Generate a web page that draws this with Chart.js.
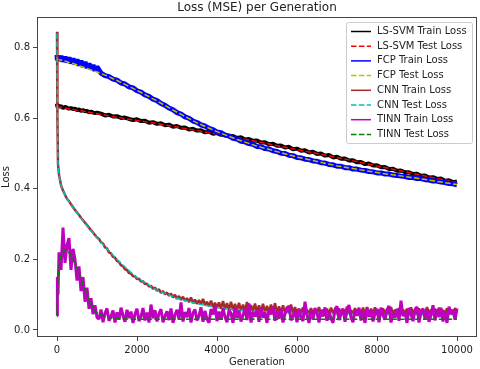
<html lang="en">
<head>
    <meta charset="UTF-8">
    <title>Loss (MSE) per Generation</title>
    <style>
        body { margin: 0; background: #fff; }
    </style>
</head>
<body>
    <canvas id="loss-chart" width="480" height="369"></canvas>
    <script src="https://cdn.jsdelivr.net/npm/chart.js"></script>
    <script>
        // x grids: every 50 generations for the very noisy curves, every 100 for the banded ones
        const generationsFine = [0, 10, 25];
        for (let g = 50; g <= 10000; g += 50) generationsFine.push(g);

        const generationsMedium = [0, 10, 25, 50, 100, 150, 200, 250, 300, 350, 400, 450, 500,
            550, 600, 650, 700, 750, 800, 850, 900, 950, 1000];
        for (let g = 1100; g <= 10000; g += 100) generationsMedium.push(g);

        const generationsCoarse = [0, 10, 25, 50, 100, 150, 200, 250, 300, 400, 500, 600, 700, 800,
            900, 1000, 1250, 1500, 1750, 2000, 2500, 3000, 3500, 4000, 4500, 5000, 6000, 7000, 8000, 9000, 10000];

        // LS-SVM (medium grid / coarse grid)
        const lsSvmTrain = [0.641, 0.631, 0.636, 0.633, 0.634, 0.629, 0.632, 0.63, 0.627, 0.629, 0.626, 0.627, 0.623,
            0.625, 0.621, 0.623, 0.62, 0.621, 0.617, 0.619, 0.616, 0.615, 0.616,
            0.613, 0.608, 0.61, 0.605, 0.606, 0.601, 0.602, 0.598, 0.595, 0.597,
            0.592, 0.593, 0.587, 0.589, 0.584, 0.586, 0.58, 0.582, 0.576, 0.578,
            0.573, 0.574, 0.568, 0.57, 0.565, 0.566, 0.56, 0.562, 0.556, 0.558,
            0.553, 0.554, 0.548, 0.55, 0.544, 0.546, 0.54, 0.541, 0.536, 0.537,
            0.531, 0.532, 0.526, 0.528, 0.522, 0.523, 0.517, 0.519, 0.512, 0.514,
            0.508, 0.509, 0.503, 0.505, 0.499, 0.5, 0.494, 0.496, 0.489, 0.491,
            0.485, 0.486, 0.48, 0.481, 0.475, 0.476, 0.47, 0.472, 0.466, 0.467,
            0.461, 0.462, 0.456, 0.457, 0.451, 0.452, 0.447, 0.447, 0.442, 0.443,
            0.437, 0.438, 0.432, 0.433, 0.428, 0.429, 0.423, 0.424, 0.419, 0.42];

        const lsSvmTest = [0.633, 0.633, 0.632, 0.632, 0.631, 0.63, 0.629, 0.628, 0.627, 0.625, 0.623, 0.621, 0.619,
            0.617, 0.615, 0.613, 0.608, 0.603, 0.598, 0.594, 0.585, 0.575, 0.565, 0.555, 0.545, 0.534,
            0.511, 0.489, 0.465, 0.441, 0.418];

        // FCP (medium grid / coarse grid)
        const fcpTrain = [0.779, 0.764, 0.778, 0.763, 0.776, 0.761, 0.774, 0.759, 0.772, 0.756, 0.769, 0.753, 0.766,
            0.75, 0.763, 0.746, 0.759, 0.743, 0.755, 0.739, 0.751, 0.735, 0.746,
            0.728, 0.721, 0.718, 0.711, 0.708, 0.7, 0.697, 0.689, 0.686, 0.678,
            0.674, 0.666, 0.662, 0.654, 0.65, 0.642, 0.637, 0.629, 0.624, 0.616,
            0.612, 0.604, 0.6, 0.592, 0.588, 0.581, 0.578, 0.571, 0.568, 0.561,
            0.559, 0.552, 0.55, 0.543, 0.541, 0.535, 0.533, 0.528, 0.526, 0.52,
            0.519, 0.514, 0.513, 0.508, 0.506, 0.501, 0.5, 0.495, 0.494, 0.489,
            0.488, 0.484, 0.483, 0.479, 0.478, 0.474, 0.473, 0.469, 0.468, 0.464,
            0.464, 0.46, 0.46, 0.456, 0.456, 0.453, 0.452, 0.449, 0.448, 0.445,
            0.445, 0.442, 0.442, 0.439, 0.438, 0.436, 0.435, 0.432, 0.432, 0.429,
            0.429, 0.426, 0.425, 0.422, 0.422, 0.419, 0.418, 0.415, 0.414, 0.411];

        const fcpTest = [0.768, 0.767, 0.767, 0.766, 0.765, 0.763, 0.762, 0.76, 0.758, 0.755, 0.751, 0.747, 0.743,
            0.739, 0.735, 0.731, 0.72, 0.707, 0.693, 0.679, 0.649, 0.617, 0.587, 0.562, 0.54, 0.521,
            0.49, 0.465, 0.446, 0.43, 0.412];

        // CNN (fine grid / coarse grid)
        const cnnTrain = [0.845, 0.6, 0.47, 0.44, 0.41, 0.395, 0.383, 0.372, 0.365, 0.356, 0.348, 0.34, 0.333,
            0.326, 0.318, 0.311, 0.304, 0.297, 0.29, 0.283, 0.276, 0.269, 0.262,
            0.258, 0.248, 0.245, 0.234, 0.231, 0.22, 0.217, 0.207, 0.205, 0.195,
            0.193, 0.183, 0.181, 0.172, 0.17, 0.161, 0.16, 0.152, 0.152, 0.144,
            0.145, 0.137, 0.138, 0.13, 0.131, 0.123, 0.125, 0.117, 0.12, 0.111,
            0.115, 0.105, 0.11, 0.101, 0.106, 0.097, 0.103, 0.092, 0.1, 0.088,
            0.096, 0.085, 0.094, 0.082, 0.09, 0.079, 0.092, 0.076, 0.086, 0.074,
            0.085, 0.072, 0.088, 0.07, 0.08, 0.067, 0.083, 0.065, 0.077, 0.063,
            0.078, 0.06, 0.082, 0.058, 0.076, 0.057, 0.08, 0.056, 0.074, 0.055,
            0.077, 0.054, 0.072, 0.053, 0.079, 0.052, 0.07, 0.052, 0.075, 0.051,
            0.07, 0.05, 0.074, 0.05, 0.068, 0.049, 0.072, 0.049, 0.076, 0.048,
            0.067, 0.048, 0.07, 0.048, 0.066, 0.047, 0.072, 0.047, 0.065, 0.047,
            0.06, 0.046, 0.064, 0.045, 0.057, 0.046, 0.062, 0.045, 0.058, 0.046,
            0.065, 0.045, 0.057, 0.046, 0.06, 0.045, 0.063, 0.046, 0.056, 0.045,
            0.061, 0.046, 0.058, 0.045, 0.066, 0.046, 0.056, 0.045, 0.062, 0.046,
            0.058, 0.045, 0.063, 0.046, 0.057, 0.045, 0.06, 0.046, 0.064, 0.045,
            0.056, 0.046, 0.061, 0.045, 0.058, 0.046, 0.065, 0.045, 0.057, 0.046,
            0.062, 0.045, 0.058, 0.046, 0.06, 0.045, 0.064, 0.046, 0.056, 0.045,
            0.061, 0.046, 0.056, 0.045, 0.065, 0.046, 0.058, 0.045, 0.06, 0.046,
            0.063, 0.045, 0.056, 0.046, 0.061, 0.045, 0.058, 0.046, 0.062, 0.05];

        const cnnTest = [0.84, 0.6, 0.47, 0.44, 0.41, 0.395, 0.383, 0.372, 0.364, 0.347, 0.332, 0.317, 0.303,
            0.289, 0.275, 0.261, 0.23, 0.2, 0.173, 0.148, 0.113, 0.09, 0.074, 0.063, 0.056, 0.052,
            0.048, 0.046, 0.045, 0.044, 0.044];

        // TINN (fine grid / coarse grid)
        const tinnTrain = [0.04, 0.15, 0.1, 0.22, 0.17, 0.29, 0.19, 0.24, 0.26, 0.17, 0.23, 0.2, 0.14,
            0.18, 0.11, 0.15, 0.08, 0.12, 0.06, 0.09, 0.045, 0.07, 0.035,
            0.031, 0.058, 0.022, 0.047, 0.061, 0.026, 0.038, 0.055, 0.021, 0.05,
            0.029, 0.063, 0.041, 0.023, 0.057, 0.034, 0.052, 0.02, 0.045, 0.06,
            0.025, 0.037, 0.062, 0.027, 0.049, 0.021, 0.072, 0.033, 0.056, 0.024,
            0.046, 0.059, 0.022, 0.039, 0.053, 0.028, 0.061, 0.02, 0.043, 0.057,
            0.03, 0.078, 0.024, 0.051, 0.036, 0.062, 0.021, 0.048, 0.058, 0.027,
            0.04, 0.064, 0.023, 0.054, 0.031, 0.02, 0.059, 0.044, 0.07, 0.025,
            0.052, 0.029, 0.061, 0.037, 0.022, 0.056, 0.047, 0.02, 0.063, 0.034,
            0.055, 0.024, 0.042, 0.06, 0.028, 0.075, 0.021, 0.05, 0.038, 0.058,
            0.023, 0.063, 0.035, 0.049, 0.02, 0.057, 0.044, 0.066, 0.026, 0.053,
            0.032, 0.061, 0.021, 0.046, 0.058, 0.069, 0.027, 0.039, 0.054, 0.022,
            0.06, 0.036, 0.025, 0.08, 0.043, 0.02, 0.055, 0.03, 0.062, 0.048,
            0.021, 0.057, 0.038, 0.064, 0.026, 0.051, 0.033, 0.02, 0.059, 0.067,
            0.028, 0.045, 0.061, 0.023, 0.054, 0.071, 0.035, 0.022, 0.058, 0.04,
            0.063, 0.027, 0.05, 0.02, 0.065, 0.037, 0.056, 0.024, 0.046, 0.06,
            0.022, 0.063, 0.041, 0.029, 0.057, 0.068, 0.021, 0.048, 0.035, 0.06,
            0.026, 0.083, 0.039, 0.053, 0.02, 0.062, 0.044, 0.025, 0.058, 0.065,
            0.021, 0.049, 0.061, 0.032, 0.055, 0.023, 0.042, 0.07, 0.027, 0.058,
            0.036, 0.063, 0.024, 0.051, 0.02, 0.066, 0.045, 0.057, 0.029, 0.061];

        const tinnTest = [0.04, 0.09, 0.14, 0.18, 0.21, 0.222, 0.226, 0.225, 0.22, 0.2, 0.175, 0.145, 0.115,
            0.085, 0.062, 0.048, 0.036, 0.032, 0.031, 0.03, 0.03, 0.03, 0.03, 0.03, 0.03, 0.03,
            0.03, 0.03, 0.03, 0.03, 0.03];

        const xTickValues = [0, 2000, 4000, 6000, 8000, 10000];
        const yTickValues = [0.0, 0.2, 0.4, 0.6, 0.8];

        const seriesList = [
            { label: 'LS-SVM Train Loss', xs: generationsMedium, ys: lsSvmTrain, color: '#000000', width: 4, dash: [] },
            { label: 'LS-SVM Test Loss', xs: generationsCoarse, ys: lsSvmTest, color: '#ff0000', width: 1.5, dash: [5.5, 2.4] },
            { label: 'FCP Train Loss', xs: generationsMedium, ys: fcpTrain, color: '#0000ff', width: 5, dash: [] },
            { label: 'FCP Test Loss', xs: generationsCoarse, ys: fcpTest, color: '#bfbf00', width: 1.5, dash: [5.5, 2.4] },
            { label: 'CNN Train Loss', xs: generationsFine, ys: cnnTrain, color: '#a52a2a', width: 2.5, dash: [] },
            { label: 'CNN Test Loss', xs: generationsCoarse, ys: cnnTest, color: '#00bfbf', width: 1.5, dash: [5.5, 2.4] },
            { label: 'TINN Train Loss', xs: generationsFine, ys: tinnTrain, color: '#bf00bf', width: 3, dash: [] },
            { label: 'TINN Test Loss', xs: generationsCoarse, ys: tinnTest, color: '#008000', width: 1.5, dash: [5.5, 2.4] }
        ];

        const datasets = seriesList.map((s, i) => ({
            label: s.label,
            data: s.xs.map((x, j) => ({ x: x, y: s.ys[j] })),
            borderColor: s.color,
            borderWidth: s.width,
            borderDash: s.dash,
            borderJoinStyle: 'bevel',
            pointRadius: 0,
            fill: false,
            tension: 0,
            order: seriesList.length - i   // later series on top, like matplotlib
        }));

        // full box round the plot
        const framePlugin = {
            id: 'frame',
            afterDatasetsDraw(chart) {
                const a = chart.chartArea;
                const ctx = chart.ctx;
                ctx.save();
                ctx.strokeStyle = '#444';
                ctx.lineWidth = 1;
                ctx.strokeRect(Math.round(a.left) + 0.5, Math.round(a.top) + 0.5,
                    Math.round(a.right - a.left) - 1, Math.round(a.bottom - a.top) - 1);
                ctx.restore();
            }
        };

        // title and legend inside the plot, upper right
        const legendPlugin = {
            id: 'innerLegend',
            afterDraw(chart) {
                const a = chart.chartArea;
                const ctx = chart.ctx;
                ctx.save();
                ctx.fillStyle = '#222';
                ctx.font = '12px "DejaVu Sans"';
                ctx.textAlign = 'center';
                ctx.textBaseline = 'middle';
                ctx.fillText('Loss (MSE) per Generation', (a.left + a.right) / 2, 8);

                const w = 126, h = 121;
                const x0 = a.right - 5 - w, y0 = a.top + 5;
                ctx.beginPath();
                ctx.roundRect(x0 + 0.5, y0 + 0.5, w, h, 2);
                ctx.fillStyle = 'rgba(255,255,255,0.8)';
                ctx.fill();
                ctx.strokeStyle = '#cccccc';
                ctx.lineWidth = 1;
                ctx.stroke();

                ctx.font = '10px "DejaVu Sans"';
                ctx.textAlign = 'left';
                seriesList.forEach((s, i) => {
                    const y = y0 + 9.5 + i * 14.7;
                    ctx.beginPath();
                    ctx.setLineDash(s.dash.length ? [5.5, 2.4] : []);
                    ctx.strokeStyle = s.color;
                    ctx.lineWidth = 1.5;
                    ctx.moveTo(x0 + 5, y);
                    ctx.lineTo(x0 + 25, y);
                    ctx.stroke();
                    ctx.setLineDash([]);
                    ctx.fillStyle = '#222';
                    ctx.fillText(s.label, x0 + 31, y);
                });
                ctx.restore();
            }
        };

        Chart.defaults.font.family = '"DejaVu Sans"';
        Chart.defaults.font.size = 10;
        Chart.defaults.color = '#222';

        new Chart(document.getElementById('loss-chart'), {
            type: 'line',
            data: { datasets: datasets },
            plugins: [framePlugin, legendPlugin],
            options: {
                responsive: false,
                animation: false,
                layout: { padding: { top: 17, right: 3, left: 0, bottom: 0 } },
                plugins: {
                    legend: { display: false },
                    title: { display: false },
                    tooltip: { enabled: false }
                },
                scales: {
                    x: {
                        type: 'linear',
                        min: -500,
                        max: 10500,
                        afterBuildTicks: scale => { scale.ticks = xTickValues.map(v => ({ value: v })); },
                        afterFit: scale => { scale.height = 32; },
                        ticks: { callback: v => String(v), maxRotation: 0, padding: 3 },
                        grid: { display: true, drawOnChartArea: false, drawTicks: true, tickLength: 4, color: '#444' },
                        border: { display: false },
                        title: { display: true, text: 'Generation', padding: { top: 0, bottom: 1 } }
                    },
                    y: {
                        type: 'linear',
                        min: -0.02,
                        max: 0.887,
                        afterBuildTicks: scale => { scale.ticks = yTickValues.map(v => ({ value: v })); },
                        afterFit: scale => { scale.width = 37; },
                        ticks: { callback: v => v.toFixed(1), padding: 3 },
                        grid: { display: true, drawOnChartArea: false, drawTicks: true, tickLength: 4, color: '#444' },
                        border: { display: false },
                        title: { display: true, text: 'Loss', padding: { top: 0, bottom: 0 } }
                    }
                }
            }
        });
    </script>
</body>
</html>
